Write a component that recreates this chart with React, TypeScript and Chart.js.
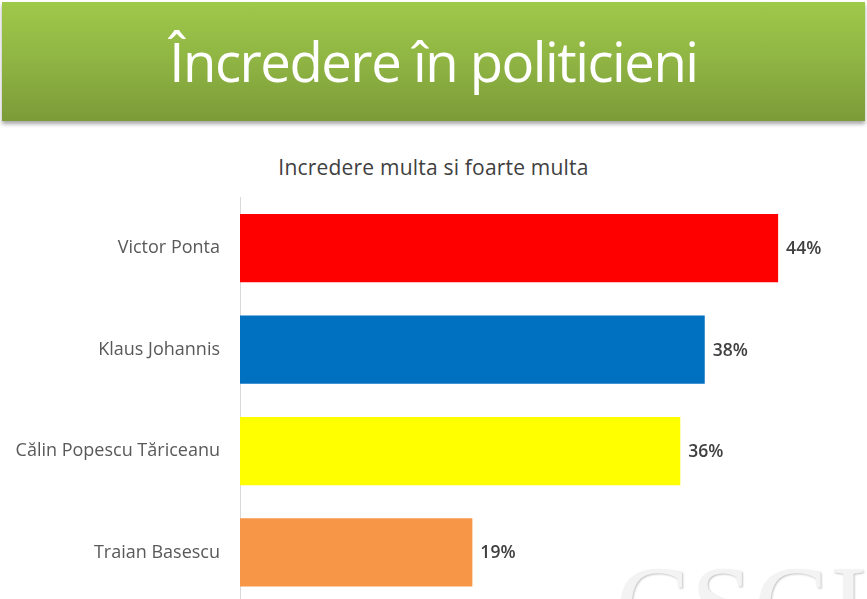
import React, { useEffect, useRef } from "react";
import { Chart, registerables } from "chart.js";

Chart.register(...registerables);

const categories = ["Victor Ponta", "Klaus Johannis", "Călin Popescu Tăriceanu", "Traian Basescu"];
const values = [44, 38, 36, 19];
const barColors = ["#ff0000", "#0070c0", "#ffff00", "#f79646"];
const valueLabels = ["44%", "38%", "36%", "19%"];
const headerTitle = "Încredere în politicieni";
const chartTitle = "Incredere multa si foarte multa";

const FONT = "'Open Sans', 'Noto Sans', sans-serif";

const valueLabelPlugin = {
  id: "valueLabels",
  afterDatasetsDraw(chart: any) {
    const ctx = chart.ctx;
    const meta = chart.getDatasetMeta(0);
    ctx.save();
    ctx.font = `600 17.5px ${FONT}`;
    ctx.fillStyle = "#404040";
    ctx.textAlign = "left";
    ctx.textBaseline = "middle";
    meta.data.forEach((bar: any, i: number) => {
      ctx.fillText(valueLabels[i], bar.x + 8, bar.y + 1);
    });
    ctx.restore();
  },
};

export default function App() {
  const canvasRef = useRef<HTMLCanvasElement>(null);

  useEffect(() => {
    const chart = new Chart(canvasRef.current!, {
      type: "bar",
      data: {
        labels: categories,
        datasets: [
          {
            data: values,
            backgroundColor: barColors,
            borderWidth: 0,
            categoryPercentage: 1,
            barPercentage: 0.673,
          },
        ],
      },
      options: {
        indexAxis: "y",
        animation: false,
        responsive: true,
        maintainAspectRatio: false,
        layout: { padding: { top: 197.5, bottom: 4.5, right: 15.5, left: 0 } },
        plugins: {
          legend: { display: false },
          tooltip: { enabled: false },
          title: { display: false },
        },
        scales: {
          x: {
            display: false,
            min: 0,
            max: 50,
          },
          y: {
            grid: { display: false, drawTicks: false },
            border: { display: true, color: "#d9d9d9", width: 1 },
            ticks: {
              color: "#595959",
              font: { family: FONT, size: 18 },
              padding: 20,
            },
            afterFit(scale: any) {
              scale.width = 240;
            },
          },
        },
      },
      plugins: [valueLabelPlugin],
    });
    return () => chart.destroy();
  }, []);

  return (
    <div
      style={{
        position: "fixed",
        left: 0,
        top: 0,
        width: 867,
        height: 599,
        overflow: "hidden",
        background: "#ffffff",
      }}
    >
      <div
        style={{
          position: "absolute",
          left: 2,
          top: 2,
          width: 863,
          height: 119,
          background: "linear-gradient(to bottom, #9fc94a 0%, #8fb443 50%, #7b9b38 100%)",
          boxShadow: "0 3px 4px rgba(0,0,0,0.35)",
        }}
      />
      <div
        style={{
          position: "absolute",
          left: 0,
          top: 21,
          width: 867,
          textAlign: "center",
          color: "#ffffff",
          fontFamily: FONT,
          fontSize: 55,
          lineHeight: "80px",
          letterSpacing: -1.5,
          transform: "scaleX(0.99)",
          transformOrigin: "50% 50%",
        }}
      >
        {headerTitle}
      </div>
      <div
        style={{
          position: "absolute",
          left: 0,
          top: 152,
          width: 867,
          textAlign: "center",
          color: "#404040",
          fontFamily: FONT,
          fontSize: 21,
          lineHeight: "30px",
          letterSpacing: 0.2,
        }}
      >
        {chartTitle}
      </div>
      <div
        style={{
          position: "absolute",
          left: 616,
          top: 542,
          fontFamily: "'Liberation Serif', serif",
          fontSize: 110,
          color: "#f3f3f3",
          textShadow: "1px 1px 2px #c4c4c4, -1px -1px 1px #ffffff",
          whiteSpace: "nowrap",
          letterSpacing: 2,
        }}
      >
        CSCI
      </div>
      <div style={{ position: "absolute", left: 0, top: 0, width: 867, height: 634 }}>
        <canvas ref={canvasRef} />
      </div>
    </div>
  );
}
